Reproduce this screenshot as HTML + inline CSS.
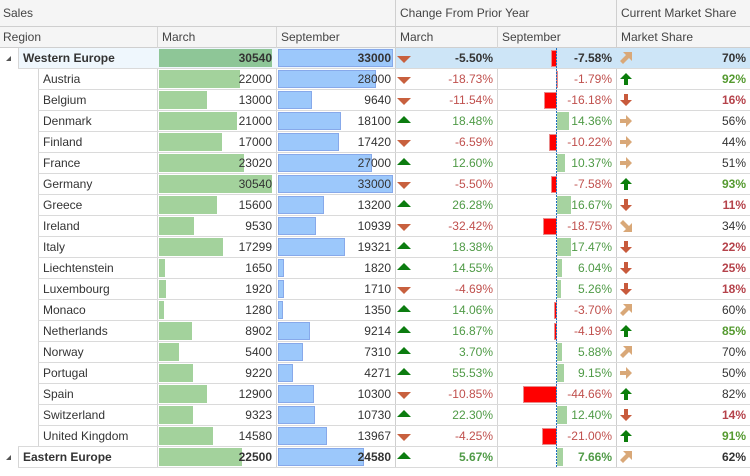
<!DOCTYPE html>
<html><head><meta charset="utf-8">
<style>
body{margin:0;width:750px;height:476px;overflow:hidden;background:#fff;font-family:"Liberation Sans",Arial,sans-serif;font-size:12px;color:#333;position:relative}
.a{position:absolute}
.hbg{position:absolute;left:0;top:0;width:750px;height:47px;background:#f5f5f5}
.hl{position:absolute;background:#cfcfcf}
.ht{position:absolute;line-height:20px;color:#444;white-space:nowrap}
.t{position:absolute;top:0;line-height:20px;white-space:nowrap}
.r{position:absolute;left:0;width:750px;height:21px}
.ln{position:absolute;left:38px;right:0;bottom:0;height:1px;background:#dadada}
.g .ln{left:18px}
.nm{left:43px}
.g .nm{left:23px;font-weight:bold}
.g .t{font-weight:bold}
.gb{position:absolute;left:159px;top:1px;height:18px;background:#a3d29c}
.bb{position:absolute;left:278px;top:1px;height:18px;background:#9cc8fb;border:1px solid #87a9ea;box-sizing:border-box}
.v1{left:160px;width:112px;text-align:right}
.v2{left:278px;width:113px;text-align:right}
.c1{left:420px;width:73px;text-align:right}
.c2{left:560px;width:52px;text-align:right}
.ms{left:650px;width:96px;text-align:right}
.neg{color:#c0504d}
.pos{color:#4f9a46}
.rb{position:absolute;top:2px;height:17px;background:#f00;border:1px solid #e98a8a;box-sizing:border-box}
.pb{position:absolute;left:557px;top:1px;height:18px;background:#a6d3a0}
.tri{position:absolute;left:397px}
.td{top:8px}.tu{top:5px}
.ic{position:absolute;left:620px;top:4px}
.bgr{font-weight:bold;color:#559a30}
.brd{font-weight:bold;color:#b5424a}
.dash{position:absolute;left:556px;top:48px;width:1px;height:420px;background:repeating-linear-gradient(to bottom,#1f6fbf 0 2px,transparent 2px 3px)}
</style></head><body>
<div class="hbg"></div>
<div class="hl" style="left:0;top:26px;width:750px;height:1px"></div>
<div class="hl" style="left:0;top:47px;width:750px;height:1px"></div>
<div class="hl" style="left:395px;top:0;width:1px;height:468px"></div>
<div class="hl" style="left:616px;top:0;width:1px;height:468px"></div>
<div class="hl" style="left:157px;top:27px;width:1px;height:441px;background:#d6d6d6"></div>
<div class="hl" style="left:276px;top:27px;width:1px;height:441px;background:#d6d6d6"></div>
<div class="hl" style="left:497px;top:27px;width:1px;height:441px;background:#d6d6d6"></div>
<div class="hl" style="left:18px;top:48px;width:1px;height:21px;background:#d6d6d6"></div>
<div class="hl" style="left:38px;top:69px;width:1px;height:378px;background:#d6d6d6"></div>
<div class="hl" style="left:18px;top:447px;width:1px;height:21px;background:#d6d6d6"></div>
<div class="ht" style="left:3px;top:3px">Sales</div>
<div class="ht" style="left:400px;top:3px">Change From Prior Year</div>
<div class="ht" style="left:621px;top:3px">Current Market Share</div>
<div class="ht" style="left:3px;top:27px">Region</div>
<div class="ht" style="left:162px;top:27px">March</div>
<div class="ht" style="left:281px;top:27px">September</div>
<div class="ht" style="left:400px;top:27px">March</div>
<div class="ht" style="left:502px;top:27px">September</div>
<div class="ht" style="left:621px;top:27px">Market Share</div>

<!-- Western Europe -->
<div class="r g" style="top:48px">
<div class="a" style="left:19px;top:0;width:376px;height:20px;background:#eff7fd"></div>
<div class="a" style="left:396px;top:0;width:354px;height:20px;background:#cde5f7"></div>
<i class="ln"></i>
<svg class="a" style="left:6px;top:8px" width="6" height="6"><path d="M5 0V5H0Z" fill="#555"/></svg>
<span class="t nm">Western Europe</span>
<i class="gb" style="width:113px;background:#8ec697"></i><span class="t v1">30540</span>
<i class="bb" style="width:115px"></i><span class="t v2">33000</span>
<svg class="tri td" width="14" height="7"><path d="M0 0H14L7 7Z" fill="#c8603e"/></svg><span class="t c1">-5.50%</span>
<i class="rb" style="left:551px;width:6px"></i><span class="t c2">-7.58%</span>
<svg class="ic" width="12" height="12"><path d="M3 0H12V9L9 6L3 12L0 9L6 3Z" fill="#d9a878"/></svg><span class="t ms">70%</span>
</div>

<div class="r" style="top:69px"><i class="ln"></i><span class="t nm">Austria</span>
<i class="gb" style="width:81px"></i><span class="t v1">22000</span>
<i class="bb" style="width:98px"></i><span class="t v2">28000</span>
<svg class="tri td" width="14" height="7"><path d="M0 0H14L7 7Z" fill="#c8603e"/></svg><span class="t c1 neg">-18.73%</span>
<i class="rb" style="left:556px;width:1px"></i><span class="t c2 neg">-1.79%</span>
<svg class="ic" width="12" height="12"><path d="M6 0L12 6H8V12H4V6H0Z" fill="#0b7d0b"/></svg><span class="t ms bgr">92%</span>
</div>

<div class="r" style="top:90px"><i class="ln"></i><span class="t nm">Belgium</span>
<i class="gb" style="width:48px"></i><span class="t v1">13000</span>
<i class="bb" style="width:34px"></i><span class="t v2">9640</span>
<svg class="tri td" width="14" height="7"><path d="M0 0H14L7 7Z" fill="#c8603e"/></svg><span class="t c1 neg">-11.54%</span>
<i class="rb" style="left:544px;width:13px"></i><span class="t c2 neg">-16.18%</span>
<svg class="ic" width="12" height="12"><path d="M6 12L12 6H8V0H4V6H0Z" fill="#c85a3c"/></svg><span class="t ms brd">16%</span>
</div>

<div class="r" style="top:111px"><i class="ln"></i><span class="t nm">Denmark</span>
<i class="gb" style="width:78px"></i><span class="t v1">21000</span>
<i class="bb" style="width:63px"></i><span class="t v2">18100</span>
<svg class="tri tu" width="14" height="7"><path d="M0 7H14L7 0Z" fill="#0c7c10"/></svg><span class="t c1 pos">18.48%</span>
<i class="pb" style="width:12px"></i><span class="t c2 pos">14.36%</span>
<svg class="ic" width="12" height="12"><path d="M12 6L6 0V4H0V8H6V12Z" fill="#d9a878"/></svg><span class="t ms">56%</span>
</div>

<div class="r" style="top:132px"><i class="ln"></i><span class="t nm">Finland</span>
<i class="gb" style="width:63px"></i><span class="t v1">17000</span>
<i class="bb" style="width:61px"></i><span class="t v2">17420</span>
<svg class="tri td" width="14" height="7"><path d="M0 0H14L7 7Z" fill="#c8603e"/></svg><span class="t c1 neg">-6.59%</span>
<i class="rb" style="left:549px;width:8px"></i><span class="t c2 neg">-10.22%</span>
<svg class="ic" width="12" height="12"><path d="M12 6L6 0V4H0V8H6V12Z" fill="#d9a878"/></svg><span class="t ms">44%</span>
</div>

<div class="r" style="top:153px"><i class="ln"></i><span class="t nm">France</span>
<i class="gb" style="width:85px"></i><span class="t v1">23020</span>
<i class="bb" style="width:94px"></i><span class="t v2">27000</span>
<svg class="tri tu" width="14" height="7"><path d="M0 7H14L7 0Z" fill="#0c7c10"/></svg><span class="t c1 pos">12.60%</span>
<i class="pb" style="width:8px"></i><span class="t c2 pos">10.37%</span>
<svg class="ic" width="12" height="12"><path d="M12 6L6 0V4H0V8H6V12Z" fill="#d9a878"/></svg><span class="t ms">51%</span>
</div>

<div class="r" style="top:174px"><i class="ln"></i><span class="t nm">Germany</span>
<i class="gb" style="width:113px"></i><span class="t v1">30540</span>
<i class="bb" style="width:115px"></i><span class="t v2">33000</span>
<svg class="tri td" width="14" height="7"><path d="M0 0H14L7 7Z" fill="#c8603e"/></svg><span class="t c1 neg">-5.50%</span>
<i class="rb" style="left:551px;width:6px"></i><span class="t c2 neg">-7.58%</span>
<svg class="ic" width="12" height="12"><path d="M6 0L12 6H8V12H4V6H0Z" fill="#0b7d0b"/></svg><span class="t ms bgr">93%</span>
</div>

<div class="r" style="top:195px"><i class="ln"></i><span class="t nm">Greece</span>
<i class="gb" style="width:58px"></i><span class="t v1">15600</span>
<i class="bb" style="width:46px"></i><span class="t v2">13200</span>
<svg class="tri tu" width="14" height="7"><path d="M0 7H14L7 0Z" fill="#0c7c10"/></svg><span class="t c1 pos">26.28%</span>
<i class="pb" style="width:14px"></i><span class="t c2 pos">16.67%</span>
<svg class="ic" width="12" height="12"><path d="M6 12L12 6H8V0H4V6H0Z" fill="#c85a3c"/></svg><span class="t ms brd">11%</span>
</div>

<div class="r" style="top:216px"><i class="ln"></i><span class="t nm">Ireland</span>
<i class="gb" style="width:35px"></i><span class="t v1">9530</span>
<i class="bb" style="width:38px"></i><span class="t v2">10939</span>
<svg class="tri td" width="14" height="7"><path d="M0 0H14L7 7Z" fill="#c8603e"/></svg><span class="t c1 neg">-32.42%</span>
<i class="rb" style="left:543px;width:14px"></i><span class="t c2 neg">-18.75%</span>
<svg class="ic" width="12" height="12"><path d="M12 3V12H3L6 9L0 3L3 0L9 6Z" fill="#d9a878"/></svg><span class="t ms">34%</span>
</div>

<div class="r" style="top:237px"><i class="ln"></i><span class="t nm">Italy</span>
<i class="gb" style="width:64px"></i><span class="t v1">17299</span>
<i class="bb" style="width:67px"></i><span class="t v2">19321</span>
<svg class="tri tu" width="14" height="7"><path d="M0 7H14L7 0Z" fill="#0c7c10"/></svg><span class="t c1 pos">18.38%</span>
<i class="pb" style="width:14px"></i><span class="t c2 pos">17.47%</span>
<svg class="ic" width="12" height="12"><path d="M6 12L12 6H8V0H4V6H0Z" fill="#c85a3c"/></svg><span class="t ms brd">22%</span>
</div>

<div class="r" style="top:258px"><i class="ln"></i><span class="t nm">Liechtenstein</span>
<i class="gb" style="width:6px"></i><span class="t v1">1650</span>
<i class="bb" style="width:6px"></i><span class="t v2">1820</span>
<svg class="tri tu" width="14" height="7"><path d="M0 7H14L7 0Z" fill="#0c7c10"/></svg><span class="t c1 pos">14.55%</span>
<i class="pb" style="width:5px"></i><span class="t c2 pos">6.04%</span>
<svg class="ic" width="12" height="12"><path d="M6 12L12 6H8V0H4V6H0Z" fill="#c85a3c"/></svg><span class="t ms brd">25%</span>
</div>

<div class="r" style="top:279px"><i class="ln"></i><span class="t nm">Luxembourg</span>
<i class="gb" style="width:7px"></i><span class="t v1">1920</span>
<i class="bb" style="width:6px"></i><span class="t v2">1710</span>
<svg class="tri td" width="14" height="7"><path d="M0 0H14L7 7Z" fill="#c8603e"/></svg><span class="t c1 neg">-4.69%</span>
<i class="pb" style="width:4px"></i><span class="t c2 pos">5.26%</span>
<svg class="ic" width="12" height="12"><path d="M6 12L12 6H8V0H4V6H0Z" fill="#c85a3c"/></svg><span class="t ms brd">18%</span>
</div>

<div class="r" style="top:300px"><i class="ln"></i><span class="t nm">Monaco</span>
<i class="gb" style="width:5px"></i><span class="t v1">1280</span>
<i class="bb" style="width:5px"></i><span class="t v2">1350</span>
<svg class="tri tu" width="14" height="7"><path d="M0 7H14L7 0Z" fill="#0c7c10"/></svg><span class="t c1 pos">14.06%</span>
<i class="rb" style="left:554px;width:3px"></i><span class="t c2 neg">-3.70%</span>
<svg class="ic" width="12" height="12"><path d="M3 0H12V9L9 6L3 12L0 9L6 3Z" fill="#d9a878"/></svg><span class="t ms">60%</span>
</div>

<div class="r" style="top:321px"><i class="ln"></i><span class="t nm">Netherlands</span>
<i class="gb" style="width:33px"></i><span class="t v1">8902</span>
<i class="bb" style="width:32px"></i><span class="t v2">9214</span>
<svg class="tri tu" width="14" height="7"><path d="M0 7H14L7 0Z" fill="#0c7c10"/></svg><span class="t c1 pos">16.87%</span>
<i class="rb" style="left:554px;width:3px"></i><span class="t c2 neg">-4.19%</span>
<svg class="ic" width="12" height="12"><path d="M6 0L12 6H8V12H4V6H0Z" fill="#0b7d0b"/></svg><span class="t ms bgr">85%</span>
</div>

<div class="r" style="top:342px"><i class="ln"></i><span class="t nm">Norway</span>
<i class="gb" style="width:20px"></i><span class="t v1">5400</span>
<i class="bb" style="width:25px"></i><span class="t v2">7310</span>
<svg class="tri tu" width="14" height="7"><path d="M0 7H14L7 0Z" fill="#0c7c10"/></svg><span class="t c1 pos">3.70%</span>
<i class="pb" style="width:5px"></i><span class="t c2 pos">5.88%</span>
<svg class="ic" width="12" height="12"><path d="M3 0H12V9L9 6L3 12L0 9L6 3Z" fill="#d9a878"/></svg><span class="t ms">70%</span>
</div>

<div class="r" style="top:363px"><i class="ln"></i><span class="t nm">Portugal</span>
<i class="gb" style="width:34px"></i><span class="t v1">9220</span>
<i class="bb" style="width:15px"></i><span class="t v2">4271</span>
<svg class="tri tu" width="14" height="7"><path d="M0 7H14L7 0Z" fill="#0c7c10"/></svg><span class="t c1 pos">55.53%</span>
<i class="pb" style="width:7px"></i><span class="t c2 pos">9.15%</span>
<svg class="ic" width="12" height="12"><path d="M12 6L6 0V4H0V8H6V12Z" fill="#d9a878"/></svg><span class="t ms">50%</span>
</div>

<div class="r" style="top:384px"><i class="ln"></i><span class="t nm">Spain</span>
<i class="gb" style="width:48px"></i><span class="t v1">12900</span>
<i class="bb" style="width:36px"></i><span class="t v2">10300</span>
<svg class="tri td" width="14" height="7"><path d="M0 0H14L7 7Z" fill="#c8603e"/></svg><span class="t c1 neg">-10.85%</span>
<i class="rb" style="left:523px;width:34px"></i><span class="t c2 neg">-44.66%</span>
<svg class="ic" width="12" height="12"><path d="M6 0L12 6H8V12H4V6H0Z" fill="#0b7d0b"/></svg><span class="t ms">82%</span>
</div>

<div class="r" style="top:405px"><i class="ln"></i><span class="t nm">Switzerland</span>
<i class="gb" style="width:34px"></i><span class="t v1">9323</span>
<i class="bb" style="width:37px"></i><span class="t v2">10730</span>
<svg class="tri tu" width="14" height="7"><path d="M0 7H14L7 0Z" fill="#0c7c10"/></svg><span class="t c1 pos">22.30%</span>
<i class="pb" style="width:10px"></i><span class="t c2 pos">12.40%</span>
<svg class="ic" width="12" height="12"><path d="M6 12L12 6H8V0H4V6H0Z" fill="#c85a3c"/></svg><span class="t ms brd">14%</span>
</div>

<div class="r" style="top:426px"><i class="ln" style="left:18px"></i><span class="t nm">United Kingdom</span>
<i class="gb" style="width:54px"></i><span class="t v1">14580</span>
<i class="bb" style="width:49px"></i><span class="t v2">13967</span>
<svg class="tri td" width="14" height="7"><path d="M0 0H14L7 7Z" fill="#c8603e"/></svg><span class="t c1 neg">-4.25%</span>
<i class="rb" style="left:542px;width:15px"></i><span class="t c2 neg">-21.00%</span>
<svg class="ic" width="12" height="12"><path d="M6 0L12 6H8V12H4V6H0Z" fill="#0b7d0b"/></svg><span class="t ms bgr">91%</span>
</div>

<!-- Eastern Europe -->
<div class="r g" style="top:447px"><i class="ln"></i>
<svg class="a" style="left:6px;top:8px" width="6" height="6"><path d="M5 0V5H0Z" fill="#555"/></svg>
<span class="t nm">Eastern Europe</span>
<i class="gb" style="width:83px"></i><span class="t v1">22500</span>
<i class="bb" style="width:86px"></i><span class="t v2">24580</span>
<svg class="tri tu" width="14" height="7"><path d="M0 7H14L7 0Z" fill="#0c7c10"/></svg><span class="t c1 pos">5.67%</span>
<i class="pb" style="width:6px"></i><span class="t c2 pos">7.66%</span>
<svg class="ic" width="12" height="12"><path d="M3 0H12V9L9 6L3 12L0 9L6 3Z" fill="#d9a878"/></svg><span class="t ms">62%</span>
</div>

<div class="dash"></div>
</body></html>
